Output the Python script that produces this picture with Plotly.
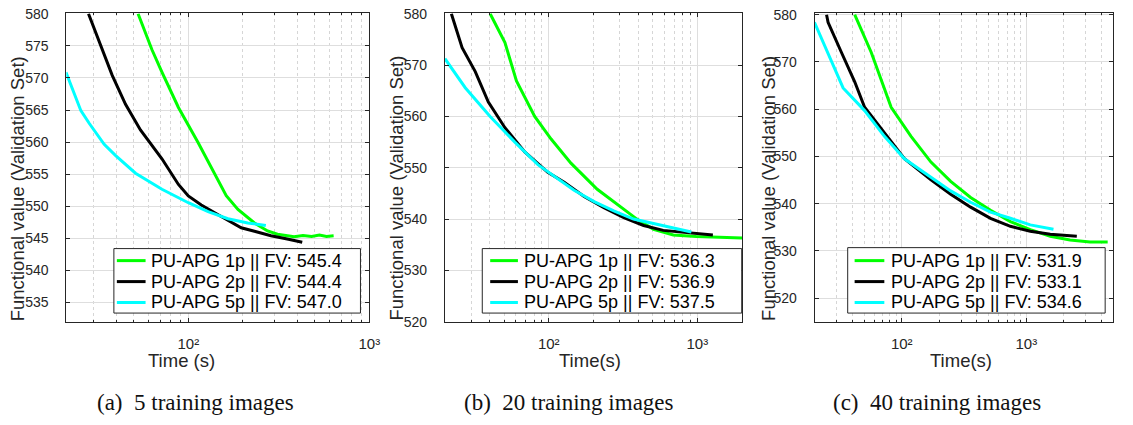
import math
import plotly.graph_objects as go

# ---------------- data ----------------
# Panel (a): 5 training images
t_a_1p = [52.8, 63, 71.5, 88.2, 113.4, 138, 162, 188, 232, 274, 311, 384, 430, 480, 530, 580, 635]
fv_a_1p = [580, 574.4, 570.9, 565.4, 559.9, 555.4, 551.65, 549.5, 547.4, 546.15, 545.65, 545.25, 545.45, 545.3, 545.5, 545.3, 545.4]
t_a_2p = [28.1, 32.1, 38.0, 45.0, 54.4, 71.5, 88.2, 100, 118, 152, 196, 232, 286, 352, 426]
fv_a_2p = [580, 575.9, 570.4, 565.9, 561.9, 557.4, 553.4, 551.6, 550.2, 548.4, 546.65, 546.1, 545.4, 544.9, 544.4]
t_a_5p = [21.1, 25.5, 28.4, 34.3, 39.7, 51.1, 71.5, 91.9, 100, 128.6, 165.6, 213, 268]
fv_a_5p = [570.9, 564.9, 562.9, 559.65, 557.9, 555.15, 552.65, 551.0, 550.55, 549.15, 548.05, 547.4, 547.0]

# Panel (b): 20 training images
t_b_1p = [40.3, 50.7, 60.6, 80.4, 103.7, 141, 212, 304, 392, 507, 689, 984, 1339, 2000]
fv_b_1p = [580, 574.4, 566.9, 560.0, 555.6, 550.9, 545.8, 542.3, 540.0, 538.0, 536.9, 536.6, 536.45, 536.3]
t_b_2p = [22.1, 26.1, 32, 39.2, 50.7, 68.9, 98.5, 127, 173, 235, 320, 435, 590, 803, 988, 1273]
fv_b_2p = [580, 573.4, 568.75, 562.8, 557.8, 553.1, 549.1, 547.2, 544.4, 542.2, 540.3, 538.75, 537.8, 537.4, 537.1, 536.9]
t_b_5p = [20, 27.4, 40.3, 59.1, 84.5, 127, 148, 202, 274, 372, 507, 689, 912]
fv_b_5p = [571.25, 565.6, 560, 555, 550.6, 547.0, 545.6, 543.4, 541.6, 540.0, 539.1, 538.25, 537.5]

# Panel (c): 40 training images
t_c_1p = [41.9, 56.9, 82.2, 118.7, 171.5, 247, 357, 516, 745, 1076, 1556, 2244, 3245, 4500]
fv_c_1p = [580, 572, 560.4, 554.25, 548.8, 544.7, 541.3, 538.6, 536.2, 534.5, 533.1, 532.3, 531.9, 531.9]
t_c_2p = [24.9, 25.6, 32.8, 41.9, 50.3, 72.6, 105, 171.5, 247, 357, 516, 745, 1076, 1556, 2543]
fv_c_2p = [580, 578.4, 572, 565.8, 560.4, 554.9, 549.5, 545.05, 542.0, 539.25, 536.9, 535.2, 534.15, 533.5, 533.1]
t_c_5p = [19.9, 33.8, 50.3, 72.6, 105, 171.5, 247, 357, 516, 745, 1076, 1652]
fv_c_5p = [578.4, 564.5, 559.7, 554.25, 549.5, 545.7, 542.7, 540.3, 538.2, 536.9, 535.5, 534.6]

series_names = ["PU-APG 1p", "PU-APG 2p", "PU-APG 5p"]
final_fv_a = ["545.4", "544.4", "547.0"]
final_fv_b = ["536.3", "536.9", "537.5"]
final_fv_c = ["531.9", "533.1", "534.6"]

x_major_vals = [100, 1000]
x_major_text = ["10\u00b2", "10\u00b3"]
x_minor_vals = [20, 30, 40, 50, 60, 70, 80, 90, 200, 300, 400, 500, 600, 700, 800, 900, 2000, 3000, 4000, 5000]
y_ticks_a = [535, 540, 545, 550, 555, 560, 565, 570, 575, 580]
y_ticks_bc = [520, 530, 540, 550, 560, 570, 580]

captions = ["(a)\u00a0\u00a05 training images", "(b)\u00a0\u00a020 training images", "(c)\u00a0\u00a040 training images"]
x_titles = ["Time (s)", "Time(s)", "Time(s)"]
y_title = "Functional value (Validation Set)"

# ---------------- styling / layout ----------------
W, H = 1133, 425
COLORS = ["#00ff00", "#000000", "#00ffff"]
SANS = "Liberation Sans, Arial, Helvetica, sans-serif"
SERIF = "Liberation Serif, Times New Roman, serif"
AX = "#262626"


def fx(px):
    return px / W


def fy(py):
    return 1 - py / H


panels = [
    dict(data=[(t_a_1p, fv_a_1p), (t_a_2p, fv_a_2p), (t_a_5p, fv_a_5p)], fv=final_fv_a,
         xpx=(67, 373), xr=(21.2, 1000.5), yr=(532, 580.08), yt=y_ticks_a,
         box=(115, 364, 250, 317), key=(118, 147), txt=150,
         ytitle_x=18, xtitle_x=183, cap_x=197),
    dict(data=[(t_b_1p, fv_b_1p), (t_b_2p, fv_b_2p), (t_b_5p, fv_b_5p)], fv=final_fv_b,
         xpx=(449.3, 749.3), xr=(20, 2000), yr=(520, 580.1), yt=y_ticks_bc,
         box=(487, 749, 250, 317), key=(495, 523), txt=527,
         ytitle_x=400, xtitle_x=596, cap_x=575),
    dict(data=[(t_c_1p, fv_c_1p), (t_c_2p, fv_c_2p), (t_c_5p, fv_c_5p)], fv=final_fv_c,
         xpx=(822.7, 1124.3), xr=(20, 5000), yr=(515, 580.3), yt=y_ticks_bc,
         box=(856, 1116, 249, 317), key=(863, 893), txt=898,
         ytitle_x=776, xtitle_x=970, cap_x=946),
]
entry_y = [262.5, 284.3, 306]

fig = go.Figure()
layout = dict(width=W, height=H, margin=dict(l=0, r=0, t=0, b=0),
              paper_bgcolor="white", plot_bgcolor="white", showlegend=False,
              font=dict(family=SANS, color=AX))
annotations = []
shapes = []

for i, p in enumerate(panels):
    sfx = "" if i == 0 else str(i + 1)
    xa, ya = "x" + sfx, "y" + sfx
    for j, (t, v) in enumerate(p["data"]):
        fig.add_trace(go.Scatter(
            x=t, y=v, mode="lines", xaxis=xa, yaxis=ya,
            line=dict(color=COLORS[j], width=3),
            name=f"{series_names[j]} || FV: {p['fv'][j]}", hoverinfo="skip"))
    layout["xaxis" + sfx] = dict(
        type="log", domain=[fx(p["xpx"][0]), fx(p["xpx"][1])],
        range=[math.log10(p["xr"][0]), math.log10(p["xr"][1])],
        anchor=ya, tickmode="array", tickvals=x_major_vals, ticktext=x_major_text,
        ticks="inside", ticklen=4, tickcolor=AX, showline=True, linecolor=AX, linewidth=1,
        mirror="ticks", showgrid=True, gridcolor="#dedede", gridwidth=1, zeroline=False,
        tickfont=dict(size=15, family=SANS, color=AX), ticklabelstandoff=8,
        ticklabeloverflow="allow",
        minor=dict(tickvals=x_minor_vals, ticks="inside", ticklen=2, tickcolor=AX,
                   showgrid=True, gridcolor="#d6d6d6", griddash="dot", gridwidth=1))
    layout["yaxis" + sfx] = dict(
        domain=[fy(326), fy(5.5)], range=list(p["yr"]), anchor=xa,
        tickmode="array", tickvals=p["yt"], ticks="inside", ticklen=4, tickcolor=AX,
        showline=True, linecolor=AX, linewidth=1, mirror="ticks", showgrid=True,
        gridcolor="#dedede", gridwidth=1, zeroline=False, ticklabeloverflow="allow",
        tickfont=dict(size=14, family=SANS, color=AX), ticklabelstandoff=14)

    # legend (box, keys, labels) drawn in paper space
    bx0, bx1, by0, by1 = p["box"]
    shapes.append(dict(type="rect", xref="paper", yref="paper", layer="above",
                       x0=fx(bx0), x1=fx(bx1), y0=fy(by1), y1=fy(by0),
                       line=dict(color=AX, width=1), fillcolor="white"))
    for j in range(3):
        shapes.append(dict(type="line", xref="paper", yref="paper", layer="above",
                           x0=fx(p["key"][0]), x1=fx(p["key"][1]),
                           y0=fy(entry_y[j]), y1=fy(entry_y[j]),
                           line=dict(color=COLORS[j], width=3)))
        annotations.append(dict(text=f"{series_names[j]} || FV: {p['fv'][j]}",
                                x=fx(p["txt"]), y=fy(entry_y[j]), xref="paper", yref="paper",
                                showarrow=False, xanchor="left", yanchor="middle",
                                font=dict(size=18, family=SANS, color="#000000")))

    annotations.append(dict(text=y_title, x=fx(p["ytitle_x"]), y=fy(187.5), xref="paper", yref="paper",
                            textangle=-90, showarrow=False, xanchor="center", yanchor="middle",
                            font=dict(size=18.5, family=SANS, color=AX)))
    annotations.append(dict(text=x_titles[i], x=fx(p["xtitle_x"]), y=fy(366), xref="paper", yref="paper",
                            showarrow=False, xanchor="center", yanchor="middle",
                            font=dict(size=18.5, family=SANS, color=AX)))
    annotations.append(dict(text=captions[i], x=fx(p["cap_x"]), y=fy(410), xref="paper", yref="paper",
                            showarrow=False, xanchor="center", yanchor="middle",
                            font=dict(size=23, family=SERIF, color="#111111")))

layout["annotations"] = annotations
layout["shapes"] = shapes
fig.update_layout(**layout)
fig.write_html("out.html", config={"displayModeBar": False},
               post_script="document.body.style.margin='0px';document.body.style.overflow='hidden';")
